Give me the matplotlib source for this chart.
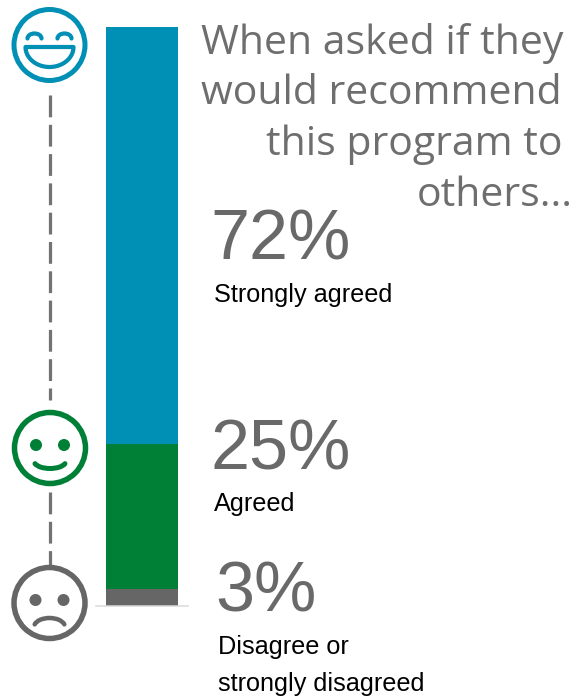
import matplotlib
matplotlib.use("Agg")
import matplotlib.pyplot as plt
import numpy as np
from matplotlib.patches import Circle, Arc

W, H = 583, 698

categories = ["Strongly agreed", "Agreed", "Disagree or\nstrongly disagreed"]
shares = [72, 25, 3]
percent_labels = ["72%", "25%", "3%"]
bar_colors = ["#008FB5", "#007F37", "#666666"]
heading = ["When asked if they", "would recommend", "this program to", "others..."]

GREY = "#696969"
px = 72 / 100  # one pixel in points at 100 dpi

fig = plt.figure(figsize=(W / 100, H / 100), dpi=100, facecolor="white")

# stacked bar, on its own axes so its height follows the shares
ax = fig.add_axes([96 / W, 1 - 606 / H, 92 / W, 579 / H])
bottom = 0
for value, color in zip(shares[::-1], bar_colors[::-1]):
    ax.bar(0, value, bottom=bottom, width=72 / 92, color=color, linewidth=0)
    bottom += value
ax.set_xlim(-0.5, 0.5)
ax.set_ylim(0, 100)
ax.set_xticks([])
ax.set_yticks([])
for side in ["top", "left", "right"]:
    ax.spines[side].set_visible(False)
ax.spines["bottom"].set_color("#d9d9d9")
ax.spines["bottom"].set_linewidth(1.5 * px)
ax.patch.set_alpha(0)

# overlay in pixel units for the faces and the text
ov = fig.add_axes([0, 0, 1, 1], zorder=3)
ov.set_xlim(0, W)
ov.set_ylim(H, 0)
ov.axis("off")

# connectors between the faces
for y0, y1 in [(95, 400), (491.5, 565)]:
    ov.plot([50, 50], [y0, y1], color="#737373", lw=3.2 * px,
            dashes=(21.8 / 3.2, 7.5 / 3.2), dash_capstyle="butt")

# laughing face
blue = bar_colors[0]
cx, cy = 49.5, 45
ov.add_patch(Circle((cx, cy), 35.5, fc="white", ec=blue, lw=5 * px, zorder=2))
for dx in (-15, 15):
    ov.add_patch(Arc((cx + dx, cy - 6.5), 14, 10, theta1=180, theta2=360,
                     ec=blue, lw=4.2 * px, capstyle="round", zorder=3))
t = np.linspace(0, np.pi, 40)
mx = np.r_[cx - 24, cx + 24, cx + 24 * np.cos(t)]
my = np.r_[cy + 2, cy + 2, cy + 2 + 20 * np.sin(t)]
ov.fill(mx, my, fc="white", ec=blue, lw=4.2 * px, joinstyle="round", zorder=3)

# smiling face
green = bar_colors[1]
cx, cy = 50, 448
ov.add_patch(Circle((cx, cy), 35.5, fc="white", ec=green, lw=5.5 * px, zorder=2))
for dx in (-14, 14):
    ov.add_patch(Circle((cx + dx, cy - 3), 6, fc=green, ec="none", zorder=3))
ov.add_patch(Arc((cx, cy + 13), 32, 15, theta1=10, theta2=170,
                 ec=green, lw=5 * px, capstyle="round", zorder=3))

# frowning face
grey = bar_colors[2]
cx, cy = 49.5, 603
ov.add_patch(Circle((cx, cy), 35.5, fc="white", ec=grey, lw=5.5 * px, zorder=2))
for dx in (-14, 14):
    ov.add_patch(Circle((cx + dx, cy - 3), 6, fc=grey, ec="none", zorder=3))
ov.add_patch(Arc((cx, cy + 24), 31, 18, theta1=190, theta2=350,
                 ec=grey, lw=4.5 * px, capstyle="round", zorder=3))

# heading, right aligned
for line, x, y in zip(heading, [563, 562, 562, 573], [54, 104, 155, 206]):
    ov.text(x, y, line, ha="right", va="baseline", color="#6e6e6e",
            family="Open Sans", fontsize=29.5)

# percentages and captions
for pct, x, y in zip(percent_labels, [210, 210, 215], [260, 470, 611]):
    ov.text(x, y, pct, ha="left", va="baseline", color=GREY,
            family="Liberation Sans", fontsize=50.5)
caption_lines = [categories[0], categories[1]] + categories[2].split("\n")
for line, x, y in zip(caption_lines, [214, 214, 218, 218], [302, 511, 654, 691]):
    ov.text(x, y, line, color="black", family="Liberation Sans", fontsize=18.2)

fig.savefig("out.png", dpi=100)
